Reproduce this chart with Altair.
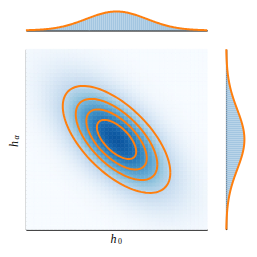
import numpy as np
import pandas as pd
import altair as alt

# ---- values ----
MEAN_X, MEAN_Y = 0.0, 0.0
SD_X, SD_Y = 1.0, 1.0
RHO = -0.62
CONTOUR_LEVELS = [0.65, 1.0, 1.35, 1.78]   # Mahalanobis radii of the orange ellipses
DOMAIN = [-3.0, 3.0]
N_GRID = 46
N_HIST = 90
BLUES = ["#f7fbff", "#deebf7", "#c6dbef", "#9ecae1", "#6baed6",
         "#4292c6", "#2171b5", "#08519c", "#08306b"]
ORANGE = "#ff7f0e"
HIST_COLOR = "#a3c6e1"

# ---- build tables ----
edges = np.linspace(DOMAIN[0], DOMAIN[1], N_GRID + 1)
cent = (edges[:-1] + edges[1:]) / 2
rows = []
for i in range(N_GRID):
    for j in range(N_GRID):
        zx = (cent[i] - MEAN_X) / SD_X
        zy = (cent[j] - MEAN_Y) / SD_Y
        q = (zx * zx - 2 * RHO * zx * zy + zy * zy) / (1 - RHO ** 2)
        rows.append(dict(x0=edges[i], x1=edges[i + 1], y0=edges[j], y1=edges[j + 1],
                         d=float(np.exp(-0.5 * q))))
grid = pd.DataFrame(rows)

cov = np.array([[SD_X ** 2, RHO * SD_X * SD_Y], [RHO * SD_X * SD_Y, SD_Y ** 2]])
L = np.linalg.cholesky(cov)
t = np.linspace(0, 2 * np.pi, 121)
ell = []
for lv in CONTOUR_LEVELS:
    pts = L @ np.vstack([np.cos(t), np.sin(t)]) * lv
    for k in range(len(t)):
        ell.append(dict(level=lv, i=k, x=pts[0, k] + MEAN_X, y=pts[1, k] + MEAN_Y))
ell = pd.DataFrame(ell)

hedges = np.linspace(DOMAIN[0], DOMAIN[1], N_HIST + 1)
hc = (hedges[:-1] + hedges[1:]) / 2
histx = pd.DataFrame(dict(b0=hedges[:-1], b1=hedges[1:],
                          h=np.exp(-0.5 * ((hc - MEAN_X) / SD_X) ** 2)))
histy = pd.DataFrame(dict(b0=hedges[:-1], b1=hedges[1:],
                          h=np.exp(-0.5 * ((hc - MEAN_Y) / SD_Y) ** 2)))
cx = np.linspace(DOMAIN[0], DOMAIN[1], 200)
curvex = pd.DataFrame(dict(v=cx, h=np.exp(-0.5 * ((cx - MEAN_X) / SD_X) ** 2), i=np.arange(200)))
curvey = pd.DataFrame(dict(v=cx, h=np.exp(-0.5 * ((cx - MEAN_Y) / SD_Y) ** 2), i=np.arange(200)))

W, H = 182, 181
sc = alt.Scale(domain=DOMAIN, nice=False, zero=False)
ax = alt.Axis(title=None, labels=False, ticks=False, grid=False,
              domainColor="black", domainWidth=1.3)

cscale = alt.Scale(type="pow", exponent=0.7, domain=[0, 1.25], range=BLUES)
heat = alt.Chart(grid).mark_rect(strokeWidth=0.6).encode(
    x=alt.X("x0:Q", scale=sc, axis=ax), x2="x1:Q",
    y=alt.Y("y0:Q", scale=sc, axis=ax), y2="y1:Q",
    color=alt.Color("d:Q", scale=cscale, legend=None),
    stroke=alt.Stroke("d:Q", scale=cscale, legend=None),
)
ellipses = alt.Chart(ell).mark_line(color=ORANGE, strokeWidth=2).encode(
    x=alt.X("x:Q", scale=sc), y=alt.Y("y:Q", scale=sc),
    detail="level:N", order="i:Q",
)
lab = pd.DataFrame(dict(a=[0]))
font = "Liberation Serif"
lab_h0 = alt.Chart(lab).mark_text(text="h", font=font, fontStyle="italic", fontSize=12,
                                  baseline="middle", align="center").encode(
    x=alt.value(88), y=alt.value(190))
lab_0 = alt.Chart(lab).mark_text(text="0", font=font, fontSize=8,
                                 baseline="middle", align="center").encode(
    x=alt.value(94.5), y=alt.value(193))
lab_ha = alt.Chart(lab).mark_text(text="h", font=font, fontStyle="italic", fontSize=12,
                                  baseline="middle", align="center", angle=270).encode(
    x=alt.value(-12), y=alt.value(95))
lab_a = alt.Chart(lab).mark_text(text="α", font=font, fontStyle="italic", fontSize=8,
                                 baseline="middle", align="center", angle=270).encode(
    x=alt.value(-9), y=alt.value(88.5))

main = alt.layer(heat, ellipses, lab_h0, lab_0, lab_ha, lab_a).properties(width=W, height=H)

ytop = alt.Scale(domain=[0, 1 / 0.95], nice=False, zero=True)
top = alt.layer(
    alt.Chart(histx).mark_rect(color=HIST_COLOR, strokeWidth=0).encode(
        x=alt.X("b0:Q", scale=sc, axis=ax), x2="b1:Q",
        y=alt.Y("h:Q", scale=ytop, axis=None), y2=alt.datum(0)),
    alt.Chart(curvex).mark_line(color=ORANGE, strokeWidth=2).encode(
        x=alt.X("v:Q", scale=sc), y=alt.Y("h:Q", scale=ytop), order="i:Q"),
).properties(width=W, height=20)

xright = alt.Scale(domain=[0, 1 / 0.92], nice=False, zero=True)
right = alt.layer(
    alt.Chart(histy).mark_rect(color=HIST_COLOR, strokeWidth=0).encode(
        y=alt.Y("b0:Q", scale=sc, axis=ax), y2="b1:Q",
        x=alt.X("h:Q", scale=xright, axis=None), x2=alt.datum(0)),
    alt.Chart(curvey).mark_line(color=ORANGE, strokeWidth=2).encode(
        y=alt.Y("v:Q", scale=sc), x=alt.X("h:Q", scale=xright), order="i:Q"),
).properties(width=20, height=H)

chart = alt.vconcat(
    top,
    alt.hconcat(main, right, spacing=19, bounds="flush"),
    spacing=19, bounds="flush",
).properties(padding={"left": 0, "top": -1, "right": 0, "bottom": 0},
             background="white"
).configure_view(stroke="transparent", strokeWidth=0)

chart.save("out.html", embed_options={"renderer": "svg", "actions": False})
